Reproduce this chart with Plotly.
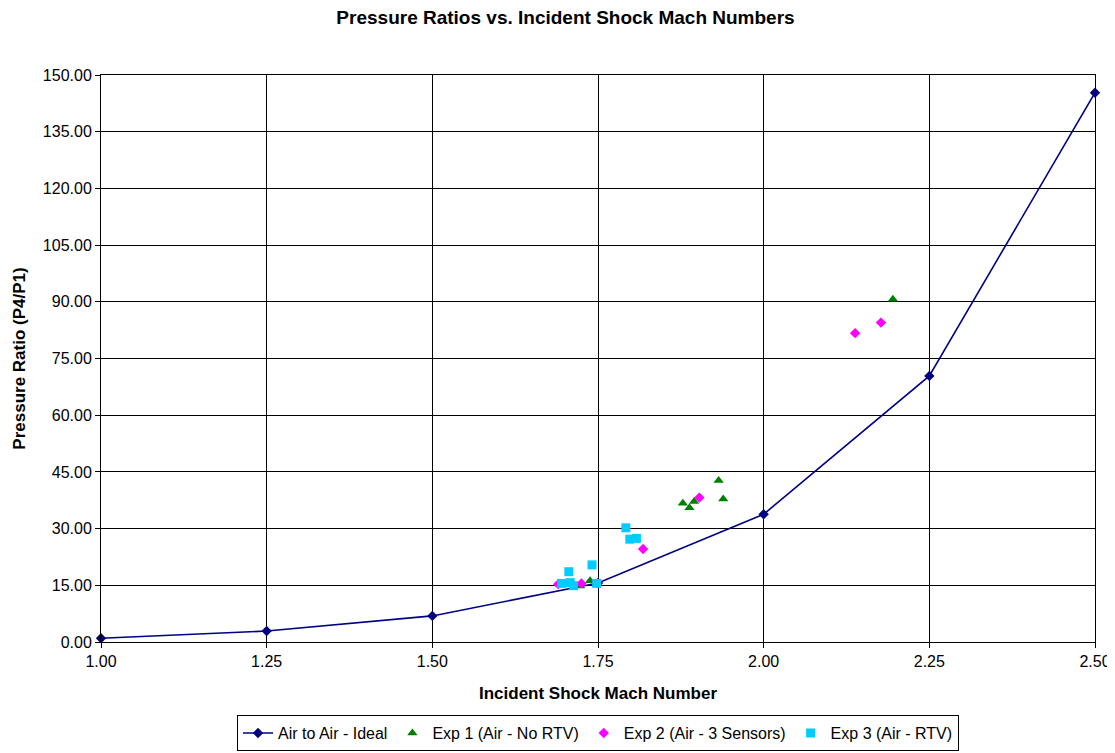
import plotly.graph_objects as go

# Ideal curve (last point lies beyond the axis range; only its line segment shows)
ideal_mach = [1.00, 1.25, 1.50, 1.75, 2.00, 2.25, 2.50]
ideal_ratio = [1.0, 2.9, 6.9, 15.6, 33.8, 70.4, 145.3]
ideal_ext_mach = [2.50, 2.75]
ideal_ext_ratio = [145.3, 301.0]

# Exp 1 (Air - No RTV)
exp1_mach = [1.723, 1.738, 1.878, 1.888, 1.895, 1.932, 1.939, 2.195]
exp1_ratio = [14.8, 16.2, 36.7, 35.5, 37.2, 42.7, 37.8, 90.7]

# Exp 2 (Air - 3 Sensors)
exp2_mach = [1.690, 1.725, 1.818, 1.903, 2.138, 2.177]
exp2_ratio = [15.3, 15.5, 24.6, 38.2, 81.7, 84.5]

# Exp 3 (Air - RTV)
exp3_mach = [1.695, 1.706, 1.708, 1.713, 1.741, 1.748, 1.792, 1.798, 1.808]
exp3_ratio = [15.5, 18.6, 15.7, 14.9, 20.4, 15.5, 30.2, 27.2, 27.4]

y_ticks = [0, 15, 30, 45, 60, 75, 90, 105, 120, 135, 150]
x_ticks = [1.00, 1.25, 1.50, 1.75, 2.00, 2.25, 2.50]

FONT = "Liberation Sans, Arial, sans-serif"

fig = go.Figure()
fig.add_trace(go.Scatter(
    x=ideal_ext_mach, y=ideal_ext_ratio, mode="lines", showlegend=False,
    line=dict(color="#000080", width=1.6), hoverinfo="skip",
))
fig.add_trace(go.Scatter(
    x=ideal_mach, y=ideal_ratio, mode="lines+markers", name="Air to Air - Ideal",
    line=dict(color="#000080", width=1.6),
    marker=dict(symbol="diamond", color="#000080", size=8),
    cliponaxis=False,
))
fig.add_trace(go.Scatter(
    x=exp1_mach, y=exp1_ratio, mode="markers", name="Exp 1 (Air - No RTV)",
    marker=dict(symbol="triangle-up", color="#008000", size=9),
))
fig.add_trace(go.Scatter(
    x=exp2_mach, y=exp2_ratio, mode="markers", name="Exp 2 (Air - 3 Sensors)",
    marker=dict(symbol="diamond", color="#FF00FF", size=8),
))
fig.add_trace(go.Scatter(
    x=exp3_mach, y=exp3_ratio, mode="markers", name="Exp 3 (Air - RTV)",
    marker=dict(symbol="square", color="#00CCFF", size=9),
))

fig.update_layout(
    width=1115, height=753,
    margin=dict(l=93, r=28, t=67, b=119),
    paper_bgcolor="white", plot_bgcolor="white",
    font=dict(family=FONT, size=16, color="black"),
    title=dict(text="<b>Pressure Ratios vs. Incident Shock Mach Numbers</b>",
               x=0.5, xanchor="center", y=0.988, yanchor="middle",
               font=dict(family=FONT, size=19)),
    showlegend=True,
    legend=dict(orientation="h", x=0.5, xanchor="center",
                yref="container", y=0.037, yanchor="middle",
                bordercolor="black", borderwidth=1, font=dict(family=FONT, size=16),
                itemsizing="trace", tracegroupgap=0),
    xaxis=dict(
        range=[1.0, 2.5], tickvals=x_ticks, tickformat=".2f",
        showgrid=True, gridcolor="black", gridwidth=1,
        showline=True, linecolor="black", linewidth=1, mirror=True,
        ticks="outside", ticklen=5, tickcolor="black",
        zeroline=False,
        title=dict(text="<b>Incident Shock Mach Number</b>", font=dict(family=FONT, size=17), standoff=17),
        tickfont=dict(family=FONT, size=16),
    ),
    yaxis=dict(
        range=[0, 150], tickvals=y_ticks, tickformat=".2f",
        showgrid=True, gridcolor="black", gridwidth=1,
        showline=True, linecolor="black", linewidth=1, mirror=True,
        ticks="outside", ticklen=5, tickcolor="black",
        zeroline=False,
        title=dict(text="<b>Pressure Ratio (P4/P1)</b>", font=dict(family=FONT, size=17), standoff=12),
        tickfont=dict(family=FONT, size=16),
    ),
)

fig.write_html("out.html")
